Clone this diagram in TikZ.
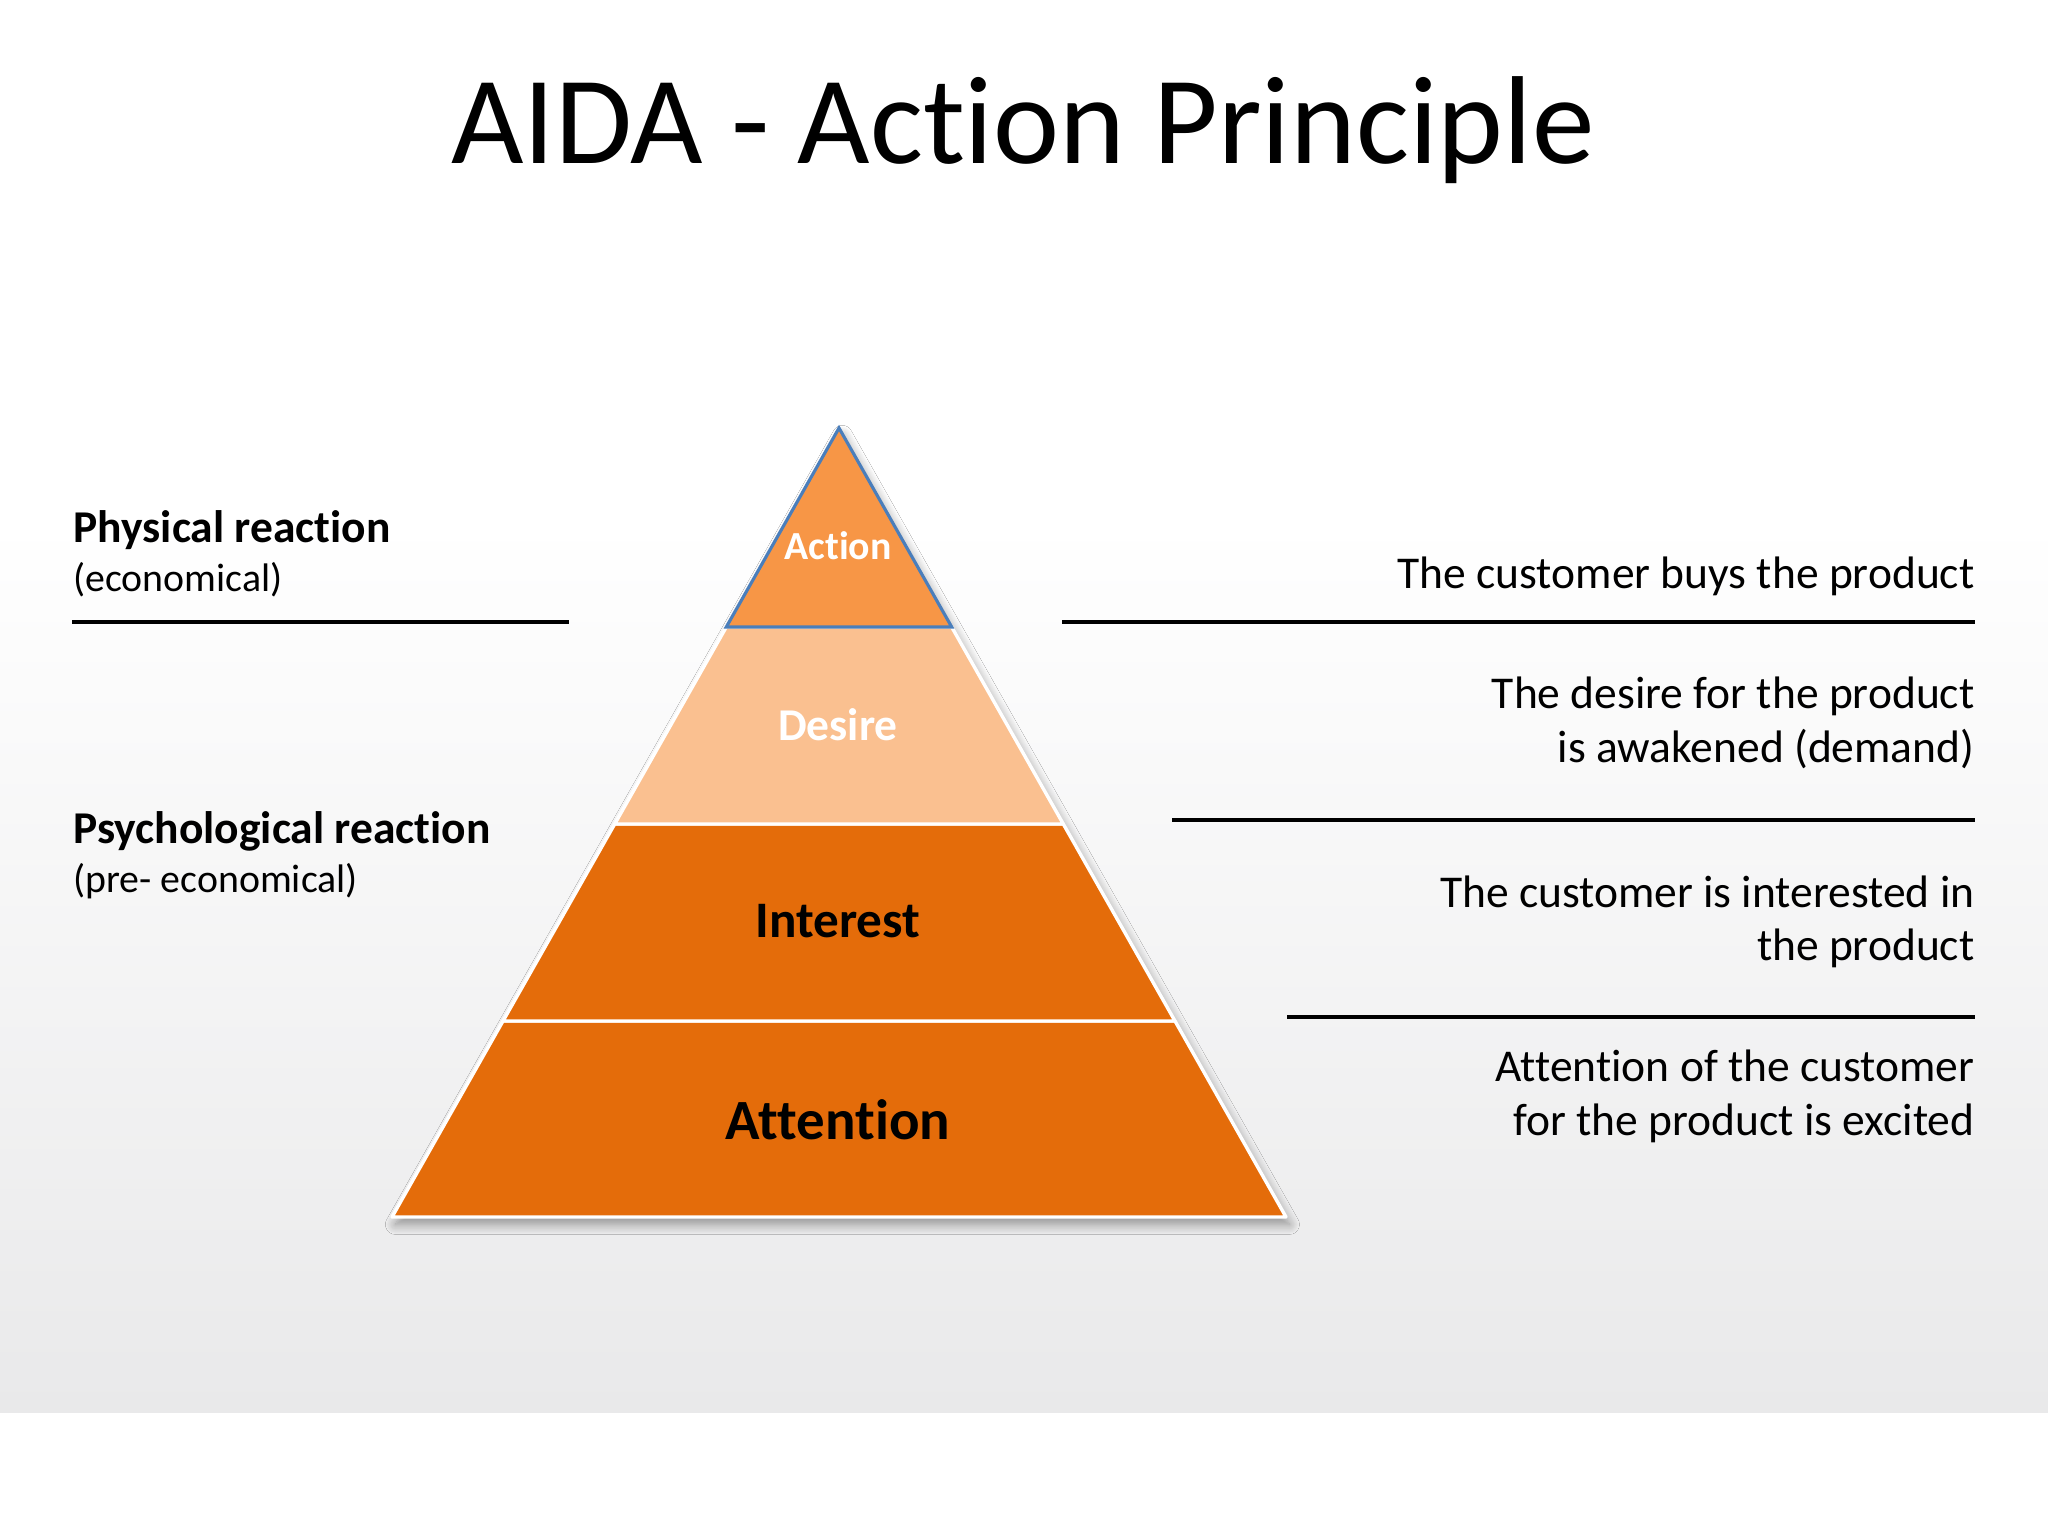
\documentclass[tikz,border=0pt]{standalone}
\usepackage{fontspec}
\setmainfont{Carlito}[Ligatures={NoCommon,NoRare,NoContextual}]
\usetikzlibrary{shadows.blur}
\definecolor{bgGray}{HTML}{E9E9EA}
\definecolor{actFill}{HTML}{F79646}
\definecolor{actLine}{HTML}{4A7EBB}
\definecolor{desFill}{HTML}{FAC090}
\definecolor{intFill}{HTML}{E46C0A}
\tikzset{
  lbl/.style={inner sep=0pt, font=\fontsize{16pt}{19pt}\selectfont},
  lbls/.style={inner sep=0pt, font=\fontsize{14pt}{17pt}\selectfont},
  lblb/.style={inner sep=0pt, font=\fontsize{16pt}{19pt}\selectfont\bfseries},
  rule/.style={line width=1.15pt, black},
  band/.style={draw=white, line width=1.2pt, line join=round}
}
\begin{document}
\begin{tikzpicture}[x=0.35156pt, y=-0.35156pt]
\useasboundingbox (0,0) rectangle (2048,1536);
% background
\fill[white] (0,0) rectangle (2048,1536);
\shade[top color=white, bottom color=bgGray] (0,520) rectangle (2048,1412);

% title
\node[inner sep=0pt, anchor=base, font=\fontsize{44pt}{53pt}\selectfont] (title) at (1023,164) {AIDA - Action Principle};

% pyramid geometry
\coordinate (apex) at (839,428);
\coordinate (a1) at (726.3,627); \coordinate (a2) at (951.7,627);
\coordinate (b1) at (614.7,824); \coordinate (b2) at (1063.3,824);
\coordinate (c1) at (503,1021);  \coordinate (c2) at (1175,1021);
\coordinate (d1) at (392,1217);  \coordinate (d2) at (1286,1217);

% shadow of the whole pyramid
\path[fill=white, blur shadow={shadow xshift=1.2pt, shadow yshift=-2.6pt, shadow blur radius=3.5pt, shadow blur steps=12, shadow opacity=40}]
  (apex) -- (d2) -- (d1) -- cycle;

% bands
\path[band, fill=intFill] (c1) -- (c2) -- (d2) -- (d1) -- cycle;
\path[band, fill=intFill] (b1) -- (b2) -- (c2) -- (c1) -- cycle;
\path[band, fill=desFill] (a1) -- (a2) -- (b2) -- (b1) -- cycle;
\path[draw=actLine, line width=1.1pt, fill=actFill, line join=miter] (apex) -- (a2) -- (a1) -- cycle;

% pyramid labels
\node[inner sep=0pt, anchor=base, text=white, font=\fontsize{14pt}{17pt}\selectfont\bfseries] (tAction) at (838,560) {Action};
\node[inner sep=0pt, anchor=base, text=white, font=\fontsize{16pt}{19pt}\selectfont\bfseries] (tDesire) at (838,740) {Desire};
\node[inner sep=0pt, anchor=base, text=black, font=\fontsize{18pt}{22pt}\selectfont\bfseries] (tInterest) at (838,937) {Interest};
\node[inner sep=0pt, anchor=base, text=black, font=\fontsize{20pt}{24pt}\selectfont\bfseries] (tAttention) at (838,1139) {Attention};

% left labels
\node[lblb, anchor=base west] (phys) at (73,543) {Physical reaction};
\node[lbls, anchor=base west] (econ) at (73,592) {(economical)};
\node[lblb, anchor=base west] (psych) at (73,843) {Psychological reaction};
\node[lbls, anchor=base west] (preecon) at (73,892) {(pre- economical)};
\coordinate (L1a) at (72,622); \coordinate (L1b) at (569,622);
\draw[rule] (L1a) -- (L1b);

% right labels
\node[lbl, anchor=base east] (r1) at (1975,589) {The customer buys the product};
\node[lbl, anchor=base east] (r2a) at (1975,708) {The desire for the product};
\node[lbl, anchor=base east] (r2b) at (1975,763) {is awakened (demand)};
\node[lbl, anchor=base east] (r3a) at (1975,907) {The customer is interested in};
\node[lbl, anchor=base east] (r3b) at (1975,960) {the product};
\node[lbl, anchor=base east] (r4a) at (1975,1081) {Attention of the customer};
\node[lbl, anchor=base east] (r4b) at (1975,1135) {for the product is excited};

\coordinate (R1a) at (1062,622); \coordinate (R1b) at (1975,622);
\coordinate (R2a) at (1172,820); \coordinate (R2b) at (1975,820);
\coordinate (R3a) at (1287,1017); \coordinate (R3b) at (1975,1017);
\draw[rule] (R1a) -- (R1b);
\draw[rule] (R2a) -- (R2b);
\draw[rule] (R3a) -- (R3b);
\end{tikzpicture}
\end{document}
